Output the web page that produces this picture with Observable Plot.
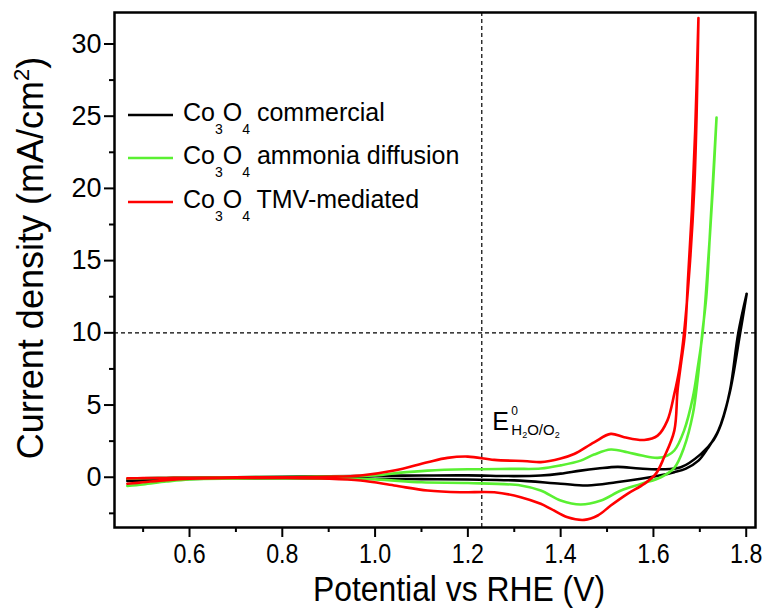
<!DOCTYPE html>
<html><head><meta charset="utf-8">
<script src="https://cdn.jsdelivr.net/npm/d3@7"></script>
<script src="https://cdn.jsdelivr.net/npm/@observablehq/plot@0.6"></script>
<style>body{margin:0;background:#fff;}</style>
</head><body><div id="chart"></div>
<script>
// ---- data ----
const seriesSuffix = ["commercial", "ammonia diffusion", "TMV-mediated"];
const seriesColors = ["#000000", "#5af032", "#ff0000"];

// Co3O4 commercial (black): forward scan then reverse scan
const blackFwdV = [0.466, 0.5, 0.55, 0.6, 0.7, 0.8, 0.9, 1.0, 1.1, 1.2, 1.3, 1.357, 1.4, 1.443, 1.48, 1.523, 1.57, 1.616, 1.659, 1.702, 1.73, 1.746, 1.765, 1.783, 1.801];
const blackFwdJ = [-0.12, -0.08, -0.05, -0.03, 0.0, 0.03, 0.06, 0.1, 0.12, 0.13, 0.08, 0.12, 0.25, 0.46, 0.6, 0.72, 0.6, 0.55, 0.69, 1.6, 2.6, 3.7, 6.0, 10.0, 12.7];
const blackRevV = [1.801, 1.787, 1.764, 1.74, 1.717, 1.697, 1.67, 1.645, 1.61, 1.573, 1.52, 1.458, 1.4, 1.3, 1.2, 1.1, 1.0, 0.9, 0.8, 0.7, 0.6, 0.55, 0.5, 0.466];
const blackRevJ = [12.7, 10.0, 5.8, 3.23, 2.0, 1.15, 0.6, 0.35, 0.1, -0.11, -0.35, -0.57, -0.45, -0.22, -0.16, -0.13, -0.1, -0.08, -0.07, -0.08, -0.12, -0.16, -0.22, -0.25];

// Co3O4 ammonia diffusion (green)
const greenFwdV = [0.466, 0.5, 0.55, 0.6, 0.7, 0.8, 0.9, 1.0, 1.05, 1.113, 1.2, 1.3, 1.357, 1.4, 1.443, 1.472, 1.508, 1.544, 1.575, 1.609, 1.63, 1.645, 1.666, 1.685, 1.695, 1.706, 1.718, 1.728, 1.736];
const greenFwdJ = [-0.1, -0.07, -0.05, -0.03, 0.0, 0.02, 0.05, 0.12, 0.3, 0.46, 0.55, 0.58, 0.6, 0.82, 1.15, 1.57, 1.92, 1.73, 1.5, 1.34, 1.5, 1.85, 3.23, 5.53, 7.5, 10.0, 15.0, 20.0, 24.9];
const greenRevV = [1.736, 1.722, 1.714, 1.705, 1.695, 1.685, 1.666, 1.645, 1.616, 1.573, 1.53, 1.487, 1.443, 1.4, 1.357, 1.314, 1.2, 1.1, 1.0, 0.9, 0.8, 0.7, 0.6, 0.55, 0.5, 0.466];
const greenRevJ = [24.9, 17.0, 12.5, 9.9, 6.69, 4.38, 2.07, 0.65, 0.0, -0.46, -0.92, -1.61, -1.89, -1.61, -0.92, -0.57, -0.4, -0.35, -0.15, -0.1, -0.08, -0.1, -0.15, -0.3, -0.5, -0.6];

// Co3O4 TMV-mediated (red)
const redFwdV = [0.466, 0.5, 0.55, 0.6, 0.7, 0.8, 0.9, 0.969, 1.041, 1.113, 1.156, 1.2, 1.257, 1.328, 1.357, 1.4, 1.429, 1.472, 1.508, 1.537, 1.58, 1.609, 1.63, 1.645, 1.656, 1.666, 1.679, 1.688, 1.693, 1.697];
const redFwdJ = [-0.08, -0.06, -0.05, -0.03, -0.01, 0.0, 0.03, 0.12, 0.46, 1.04, 1.34, 1.43, 1.2, 1.11, 1.05, 1.3, 1.61, 2.42, 3.0, 2.77, 2.58, 2.88, 3.92, 5.77, 7.5, 10.0, 15.0, 20.0, 25.0, 31.8];
const redRevV = [1.697, 1.69, 1.683, 1.675, 1.668, 1.66, 1.652, 1.645, 1.623, 1.605, 1.58, 1.544, 1.508, 1.48, 1.451, 1.415, 1.379, 1.357, 1.314, 1.257, 1.184, 1.113, 1.041, 0.969, 0.9, 0.8, 0.7, 0.6, 0.55, 0.5, 0.466];
const redRevJ = [31.8, 24.0, 18.5, 14.0, 10.0, 8.0, 6.0, 3.23, 1.38, 0.23, -0.46, -1.15, -1.96, -2.65, -2.95, -2.77, -2.19, -1.84, -1.38, -1.04, -1.04, -0.92, -0.57, -0.23, -0.1, -0.05, -0.05, -0.1, -0.2, -0.35, -0.45];

// axes & reference lines
const potentialTicks = [0.6, 0.8, 1.0, 1.2, 1.4, 1.6, 1.8];
const potentialMinor = [0.5, 0.7, 0.9, 1.1, 1.3, 1.5, 1.7];
const densityTicks = [0, 5, 10, 15, 20, 25, 30];
const densityMinor = [-2.5, 2.5, 7.5, 12.5, 17.5, 22.5, 27.5];
const refPotential = [1.23];
const refDensity = [10];

// ---- build tables ----
function loop(fv, fj, rv, rj) {
  const out = [];
  fv.forEach((v, i) => out.push({v, j: fj[i]}));
  rv.forEach((v, i) => out.push({v, j: rj[i]}));
  return out;
}
const black = loop(blackFwdV, blackFwdJ, blackRevV, blackRevJ);
const green = loop(greenFwdV, greenFwdJ, greenRevV, greenRevJ);
const red = loop(redFwdV, redFwdJ, redRevV, redRevJ);

const FONT = "'Liberation Sans', Arial, Helvetica, sans-serif";
const dash = {stroke: "#000", strokeWidth: 1.2, strokeDasharray: "4,3"};

const plot = Plot.plot({
  width: 768, height: 608,
  marginLeft: 114, marginRight: 13, marginTop: 12, marginBottom: 81,
  style: {fontFamily: FONT, fontSize: "27px", color: "#000", background: "#fff", overflow: "visible"},
  x: {domain: [0.4383, 1.82]},
  y: {domain: [-3.48, 32.18]},
  marks: [
    Plot.ruleX(refPotential, dash),
    Plot.ruleY(refDensity, dash),
    Plot.line(black, {x: "v", y: "j", stroke: seriesColors[0], strokeWidth: 2.6, curve: "catmull-rom"}),
    Plot.line(green, {x: "v", y: "j", stroke: seriesColors[1], strokeWidth: 2.6, curve: "catmull-rom"}),
    Plot.line(red, {x: "v", y: "j", stroke: seriesColors[2], strokeWidth: 2.6, curve: "catmull-rom"}),
    Plot.frame({stroke: "#000", strokeWidth: 2.5}),
    Plot.axisX(potentialTicks, {tickSize: 10, tickPadding: 6, tickFormat: d3.format(".1f"), strokeWidth: 2, label: null}),
    Plot.axisX(potentialMinor, {tickSize: 5, tickFormat: () => "", strokeWidth: 2, label: null}),
    Plot.axisY(densityTicks, {tickSize: 10, tickPadding: 3, strokeWidth: 2, label: null}),
    Plot.axisY(densityMinor, {tickSize: 5, tickFormat: () => "", strokeWidth: 2, label: null})
  ]
});
document.getElementById("chart").appendChild(plot);

const svg = d3.select(plot);
const sx = plot.scale("x"), sy = plot.scale("y");

// condense x tick labels like the reference
svg.selectAll('g[aria-label="x-axis tick label"] text').each(function() {
  const t = this.getAttribute("transform") || "";
  this.setAttribute("transform", t + " scale(0.86,1)");
});

// axis titles
svg.append("text")
  .attr("x", 459).attr("y", 601)
  .attr("text-anchor", "middle")
  .attr("font-family", FONT).attr("font-size", 35)
  .attr("textLength", 292).attr("lengthAdjust", "spacingAndGlyphs")
  .attr("fill", "#000")
  .text("Potential vs RHE (V)");

const yl = svg.append("text")
  .attr("transform", "translate(43,258) rotate(-90)")
  .attr("text-anchor", "middle")
  .attr("font-family", FONT).attr("font-size", 36)
  .attr("fill", "#000");
yl.append("tspan").text("Current density (mA/cm");
yl.append("tspan").attr("font-size", 22).attr("dy", -14).text("2");
yl.append("tspan").attr("dy", 14).text(")");

// legend
const lg = svg.append("g").attr("font-family", FONT).attr("fill", "#000").attr("text-anchor", "start");
const rowLine = [115, 158, 202];
seriesSuffix.forEach((s, i) => {
  lg.append("line").attr("x1", 128).attr("x2", 173).attr("y1", rowLine[i]).attr("y2", rowLine[i])
    .attr("stroke", seriesColors[i]).attr("stroke-width", 2.6);
  const t = lg.append("text").attr("x", 183).attr("y", rowLine[i] + 5.5).attr("font-size", 25).attr("text-anchor", "start");
  t.append("tspan").text("Co");
  t.append("tspan").attr("font-size", 14).attr("dy", 13).text("3");
  t.append("tspan").attr("dy", -13).text("O");
  t.append("tspan").attr("font-size", 14).attr("dy", 13).text("4");
  t.append("tspan").attr("dy", -13).text(" " + s);
});

// E0 annotation
const ex = sx.apply(refPotential[0]) + 11;
const ann = svg.append("g").attr("font-family", FONT).attr("fill", "#000").attr("text-anchor", "start");
ann.append("text").attr("x", ex).attr("y", 430).attr("font-size", 25).attr("text-anchor", "start").text("E");
ann.append("text").attr("x", ex + 19).attr("y", 415).attr("font-size", 12).attr("text-anchor", "start").text("0");
const sub = ann.append("text").attr("x", ex + 19).attr("y", 435).attr("font-size", 15).attr("text-anchor", "start");
sub.append("tspan").text("H");
sub.append("tspan").attr("font-size", 9).attr("dy", 3).text("2");
sub.append("tspan").attr("dy", -3).text("O/O");
sub.append("tspan").attr("font-size", 9).attr("dy", 3).text("2");
</script>
</body></html>
